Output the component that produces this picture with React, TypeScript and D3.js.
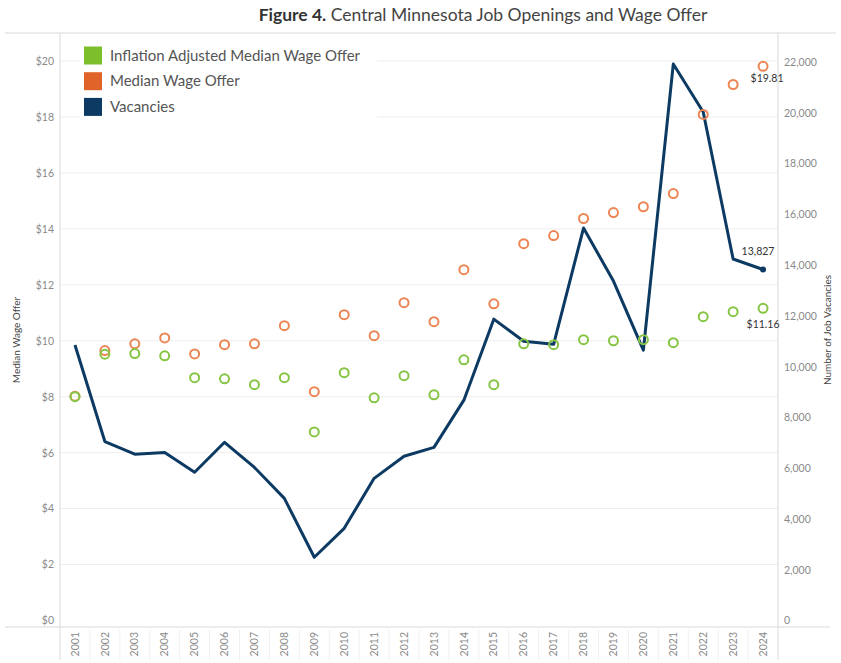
import React, { useEffect, useRef } from 'react';
import * as d3 from 'd3';

const years = [
  '2001', '2002', '2003', '2004', '2005', '2006', '2007', '2008', '2009', '2010', '2011', '2012',
  '2013', '2014', '2015', '2016', '2017', '2018', '2019', '2020', '2021', '2022', '2023', '2024',
];
const vacancies = [
  10850, 7050, 6550, 6620, 5840, 7020, 6030, 4810, 2490, 3630, 5600, 6470,
  6820, 8680, 11870, 11000, 10880, 15460, 13370, 10650, 21920, 20030, 14240, 13827,
];
const medianWage = [
  8.02, 9.65, 9.89, 10.1, 9.53, 9.86, 9.89, 10.54, 8.18, 10.93, 10.18, 11.36,
  10.68, 12.54, 11.32, 13.47, 13.76, 14.37, 14.58, 14.79, 15.26, 18.09, 19.16, 19.81,
];
const adjustedWage = [
  8.0, 9.52, 9.54, 9.46, 8.68, 8.64, 8.43, 8.68, 6.74, 8.86, 7.96, 8.75,
  8.07, 9.32, 8.43, 9.89, 9.86, 10.04, 10.0, 10.04, 9.93, 10.86, 11.04, 11.16,
];
const wageTicks = [0, 2, 4, 6, 8, 10, 12, 14, 16, 18, 20];
const vacancyTicks = [0, 2000, 4000, 6000, 8000, 10000, 12000, 14000, 16000, 18000, 20000, 22000];
const legendItems = ['Inflation Adjusted Median Wage Offer', 'Median Wage Offer', 'Vacancies'];

const GREEN = '#7dbf2a';
const GREEN_MARK = '#86c544';
const ORANGE = '#e0642a';
const ORANGE_MARK = '#ec8553';
const NAVY = '#0c3a63';
const FONT = 'Lato, "Open Sans", sans-serif';

const App: React.FC = () => {
  const svgRef = useRef<SVGSVGElement | null>(null);

  useEffect(() => {
    const svg = d3.select(svgRef.current);
    svg.selectAll('*').remove();

    const width = 841;
    const height = 663;
    const left = 60;
    const right = 778;
    const top = 33;
    const bottom = 627;

    svg.attr('width', width).attr('height', height).style('font-family', FONT);

    const x = d3.scaleBand().domain(years).range([left, right]);
    const yWage = d3.scaleLinear().domain([0, 20]).range([620.5, 61]);
    const yVac = d3.scaleLinear().domain([0, 22000]).range([620.5, 62]);
    const cx = (d: string) => x(d)! + x.bandwidth() / 2;

    // title
    const title = svg.append('text')
      .attr('x', 483).attr('y', 21)
      .attr('text-anchor', 'middle')
      .attr('font-size', 17.5)
      .attr('fill', '#333');
    title.append('tspan').attr('font-weight', 'bold').text('Figure 4.');
    title.append('tspan').attr('fill', '#444').text(' Central Minnesota Job Openings and Wage Offer');

    // gridlines
    svg.append('g')
      .selectAll('line')
      .data(wageTicks.slice(1))
      .enter()
      .append('line')
      .attr('x1', left).attr('x2', right)
      .attr('y1', (d) => yWage(d)).attr('y2', (d) => yWage(d))
      .attr('stroke', '#eeeeee');

    // frame lines
    const frame = svg.append('g').attr('stroke', '#d9d9d9').attr('fill', 'none');
    frame.append('line').attr('x1', 5).attr('x2', 836).attr('y1', top).attr('y2', top);
    frame.append('line').attr('x1', left).attr('x2', left).attr('y1', top).attr('y2', 660);
    frame.append('line').attr('x1', right).attr('x2', right).attr('y1', top).attr('y2', 660);
    frame.append('line').attr('x1', 5).attr('x2', 830).attr('y1', bottom).attr('y2', bottom);

    // left axis
    const yAxisL = svg.append('g')
      .attr('transform', `translate(${left},0)`)
      .call(d3.axisLeft(yWage).tickValues(wageTicks).tickSize(0).tickPadding(6).tickFormat((d) => `$${d}`));
    yAxisL.select('.domain').remove();
    yAxisL.selectAll('text').attr('fill', '#8a8a8a').attr('font-size', 10.5).attr('font-family', FONT);

    // right axis
    const yAxisR = svg.append('g')
      .attr('transform', `translate(${right},0)`)
      .call(d3.axisRight(yVac).tickValues(vacancyTicks).tickSize(0).tickPadding(6).tickFormat(d3.format(',')));
    yAxisR.select('.domain').remove();
    yAxisR.selectAll('text').attr('fill', '#8a8a8a').attr('font-size', 10.5).attr('font-family', FONT);

    // bottom axis
    const xAxis = svg.append('g')
      .attr('transform', `translate(0,${bottom})`)
      .call(d3.axisBottom(x).tickSize(0).tickPadding(0));
    xAxis.select('.domain').remove();
    xAxis.selectAll('text')
      .attr('transform', 'rotate(-90)')
      .attr('text-anchor', 'end')
      .attr('x', -5).attr('y', 0).attr('dy', '0.35em')
      .attr('fill', '#8a8a8a').attr('font-size', 10.5).attr('font-family', FONT);
    svg.append('g')
      .selectAll('line')
      .data(years.slice(1))
      .enter()
      .append('line')
      .attr('x1', (d) => x(d)!).attr('x2', (d) => x(d)!)
      .attr('y1', bottom + 3).attr('y2', 660)
      .attr('stroke', '#f0f0f0');

    // axis titles
    svg.append('text')
      .attr('transform', `translate(20,340) rotate(-90)`)
      .attr('text-anchor', 'middle')
      .attr('font-size', 10).attr('fill', '#444')
      .text('Median Wage Offer');
    svg.append('text')
      .attr('transform', `translate(831,330) rotate(-90)`)
      .attr('text-anchor', 'middle')
      .attr('font-size', 10).attr('fill', '#444')
      .text('Number of Job Vacancies');

    // vacancies line
    const line = d3.line<number>()
      .x((_, i) => cx(years[i]))
      .y((d) => yVac(d));
    svg.append('path')
      .datum(vacancies)
      .attr('d', line)
      .attr('fill', 'none')
      .attr('stroke', NAVY)
      .attr('stroke-width', 3)
      .attr('stroke-linejoin', 'round');
    svg.append('circle')
      .attr('cx', cx(years[years.length - 1]))
      .attr('cy', yVac(vacancies[vacancies.length - 1]))
      .attr('r', 3).attr('fill', NAVY);

    // wage circles
    svg.append('g')
      .selectAll('circle')
      .data(medianWage)
      .enter()
      .append('circle')
      .attr('cx', (_, i) => cx(years[i]))
      .attr('cy', (d) => yWage(d))
      .attr('r', 4.5)
      .attr('fill', 'none')
      .attr('stroke', ORANGE_MARK)
      .attr('stroke-width', 2);
    svg.append('g')
      .selectAll('circle')
      .data(adjustedWage)
      .enter()
      .append('circle')
      .attr('cx', (_, i) => cx(years[i]))
      .attr('cy', (d) => yWage(d))
      .attr('r', 4.5)
      .attr('fill', 'none')
      .attr('stroke', GREEN_MARK)
      .attr('stroke-width', 2);

    // end labels
    const lastX = cx(years[years.length - 1]);
    const labels = svg.append('g').attr('font-size', 10.5).attr('fill', '#333').attr('text-anchor', 'middle');
    labels.append('text')
      .attr('x', lastX + 4).attr('y', yWage(medianWage[medianWage.length - 1]) + 16)
      .text(d3.format('$.2f')(medianWage[medianWage.length - 1]));
    labels.append('text')
      .attr('x', lastX - 5).attr('y', yVac(vacancies[vacancies.length - 1]) - 14)
      .text(d3.format(',')(vacancies[vacancies.length - 1]));
    labels.append('text')
      .attr('x', lastX).attr('y', yWage(adjustedWage[adjustedWage.length - 1]) + 20)
      .text(d3.format('$.2f')(adjustedWage[adjustedWage.length - 1]));

    // legend
    const legend = svg.append('g');
    legend.append('rect')
      .attr('x', 79).attr('y', 36).attr('width', 298).attr('height', 86)
      .attr('fill', '#fff');
    const colors = [GREEN, ORANGE, NAVY];
    legendItems.forEach((item, i) => {
      const yy = 55.5 + i * 25.7;
      legend.append('rect')
        .attr('x', 84).attr('y', yy - 9).attr('width', 18).attr('height', 18)
        .attr('fill', colors[i]);
      legend.append('text')
        .attr('x', 110).attr('y', yy).attr('dy', '0.35em')
        .attr('font-size', 15).attr('fill', '#555')
        .text(item);
    });
  }, []);

  return <svg ref={svgRef} style={{ position: 'absolute', left: 0, top: 0 }}></svg>;
};

export default App;
